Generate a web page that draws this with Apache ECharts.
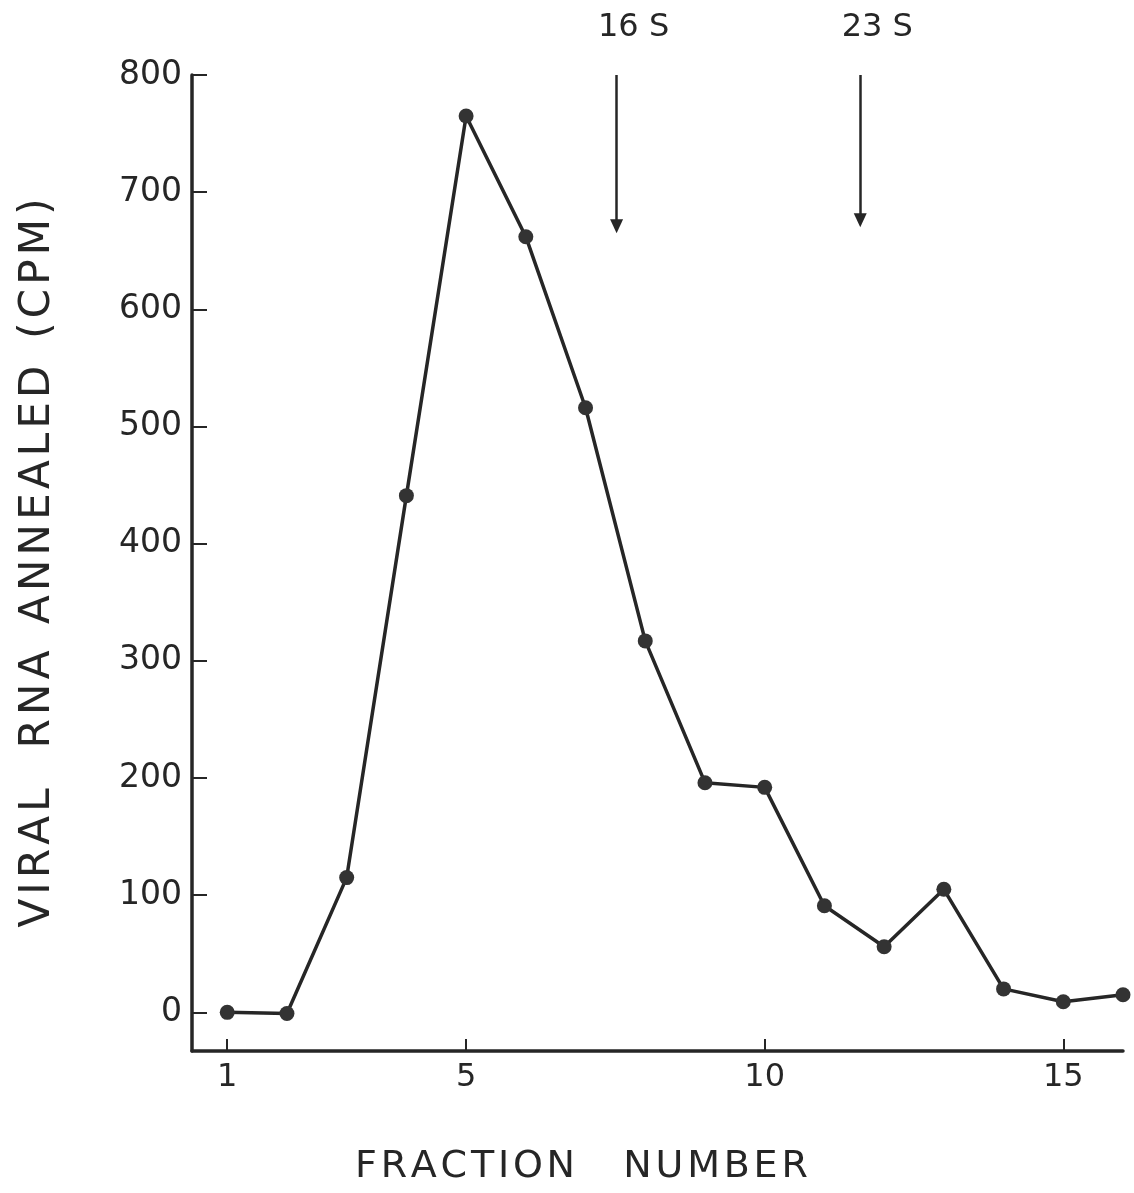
<!DOCTYPE html>
<html>
<head>
<meta charset="utf-8">
<script src="https://cdn.jsdelivr.net/npm/echarts@6/dist/echarts.min.js"></script>
<style>
html,body{margin:0;padding:0;background:#fff;}
#chart{width:1134px;height:1193px;}
</style>
</head>
<body>
<div id="chart"></div>
<script>
// Data
const fractions = [1, 2, 3, 4, 5, 6, 7, 8, 9, 10, 11, 12, 13, 14, 15, 16];
const cpm = [0, -1, 115, 441, 765, 662, 516, 317, 196, 192, 91, 56, 105, 20, 9, 15];
const xTicks = [1, 5, 10, 15];
const yTicks = [0, 100, 200, 300, 400, 500, 600, 700, 800];
const markerLabels = ['16 S', '23 S'];
const markerX = [7.52, 11.6];
const markerTop = [800, 800];
const markerTip = [671, 676];
const xTitleWords = ['FRACTION', 'NUMBER'];
const yTitleWords = ['VIRAL', 'RNA', 'ANNEALED', '(CPM)'];

const ink = '#262626';
const font = 'DejaVu Sans';
const HAIR = '\u200A';
// widen letter spacing of hand-lettered titles
const spread = w => w.split('').join(HAIR);

const xTitle = xTitleWords.map(spread).join('    ');
const yWords = yTitleWords.map(spread);
const yTitle = yWords[0] + '   ' + yWords[1] + '  ' + yWords[2] + '  ' + yWords[3];

const chart = echarts.init(document.getElementById('chart'));
chart.setOption({
  backgroundColor: '#fff',
  animation: false,
  title: {
    text: xTitle,
    left: 350,
    top: 1143,
    textStyle: { fontFamily: font, fontSize: 38, fontWeight: 'normal', color: ink }
  },
  grid: { left: 192, right: 11, top: 75, bottom: 142, containLabel: false, outerBoundsMode: 'none' },
  xAxis: {
    type: 'value',
    min: 0.41,
    max: 16,
    splitLine: { show: false },
    axisLine: { show: true, onZero: false, lineStyle: { color: ink, width: 3.5 } },
    axisTick: { show: true, inside: true, length: 12, customValues: xTicks, lineStyle: { color: ink, width: 2 } },
    axisLabel: { show: true, customValues: xTicks, margin: 11, fontFamily: font, fontSize: 32, color: ink }
  },
  yAxis: {
    type: 'value',
    min: -33,
    max: 800,
    name: yTitle,
    nameLocation: 'middle',
    nameGap: 133,
    nameRotate: 90,
    nameTextStyle: { fontFamily: font, fontSize: 42, color: ink },
    splitLine: { show: false },
    axisLine: { show: true, onZero: false, lineStyle: { color: ink, width: 3.5 } },
    axisTick: { show: true, inside: true, length: 15, customValues: yTicks, lineStyle: { color: ink, width: 2 } },
    axisLabel: { show: true, customValues: yTicks, margin: 10, fontFamily: font, fontSize: 33, color: ink }
  },
  series: [
    {
      type: 'line',
      data: fractions.map((f, i) => [f, cpm[i]]),
      symbol: 'circle',
      symbolSize: 15,
      clip: false,
      lineStyle: { color: ink, width: 3.5 },
      itemStyle: { color: '#333' },
      markLine: {
        silent: true,
        symbol: ['none', 'triangle'],
        symbolSize: [13, 14],
        lineStyle: { color: ink, width: 2.5, type: 'solid' },
        label: { show: false },
        data: markerX.map((x, i) => [{ coord: [x, markerTop[i]] }, { coord: [x, markerTip[i]] }])
      },
      markPoint: {
        silent: true,
        symbol: 'circle',
        symbolSize: 1,
        itemStyle: { color: 'rgba(0,0,0,0)' },
        label: {
          show: true,
          position: 'top',
          offset: [17, -26],
          fontFamily: font,
          fontSize: 32,
          color: ink,
          formatter: p => p.name
        },
        data: markerX.map((x, i) => ({ name: markerLabels[i], coord: [x, markerTop[i]] }))
      }
    }
  ]
});
</script>
</body>
</html>
